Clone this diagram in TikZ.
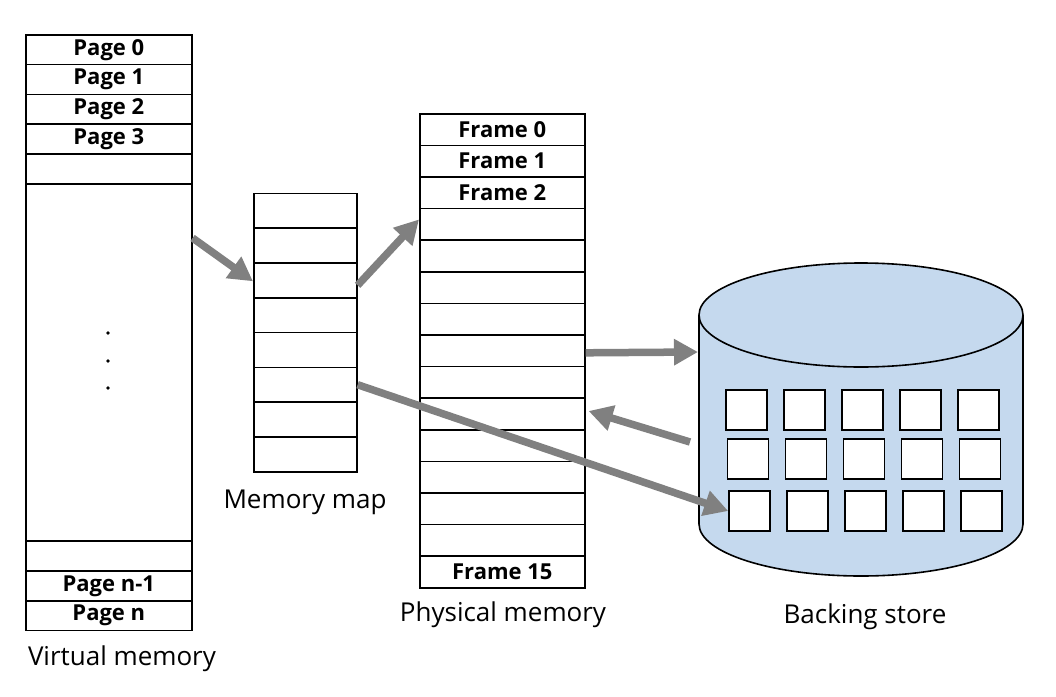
\documentclass[tikz,border=0pt]{standalone}
\usepackage{fontspec}
\setmainfont{Open Sans}
\usetikzlibrary{arrows.meta,calc}
\definecolor{arrowgray}{RGB}{128,128,128}
\definecolor{diskblue}{RGB}{197,217,238}
\tikzset{
  boxcell/.style={draw=black, line width=1.6pt, fill=white, inner sep=0pt, anchor=north west,
                  font=\fontsize{22}{24}\selectfont\bfseries},
  vcell/.style={boxcell, minimum width=166pt},
  mcell/.style={boxcell, minimum width=103pt, minimum height=34.8pt},
  pcell/.style={boxcell, minimum width=165pt, minimum height=31.6pt},
  sq/.style={draw=black, line width=1.6pt, fill=white, inner sep=0pt, minimum width=41pt, minimum height=40pt},
  caption/.style={font=\fontsize{26}{30}\selectfont, inner sep=0pt},
  bigarrow/.style={draw=arrowgray, line width=7.5pt, -{Triangle[length=24pt,width=25pt]}, shorten <=0pt},
}
\begin{document}
\begin{tikzpicture}[x=1pt,y=-1pt]
\useasboundingbox (0,0) rectangle (1056,696);
\fill[white] (0,0) rectangle (1056,696);

% Virtual memory
\node[vcell, minimum height=29.8pt] (v0) at (25,34) {Page 0};
\node[vcell, minimum height=29.8pt] (v1) at (25,63.8) {Page 1};
\node[vcell, minimum height=29.8pt] (v2) at (25,93.6) {Page 2};
\node[vcell, minimum height=29.8pt] (v3) at (25,123.4) {Page 3};
\node[vcell, minimum height=29.8pt] (v4) at (25,153.2) {};
\node[vcell, minimum height=357pt] (v5) at (25,183) {};
\node[vcell, minimum height=30pt] (v6) at (25,540) {};
\node[vcell, minimum height=30pt] (v7) at (25,570) {Page n-1};
\node[vcell, minimum height=29.5pt] (v8) at (25,600) {Page n};
\fill (108,333) circle (1.8pt);
\fill (108,361) circle (1.8pt);
\fill (108,388) circle (1.8pt);
\node[caption] (vlab) at (122,659) {Virtual memory};

% Memory map
\foreach \i in {0,...,7}
  \node[mcell] (m\i) at (253,{192.5+34.8*\i}) {};
\node[caption] (mlab) at (305,502) {Memory map};

% Physical memory
\foreach \i/\t in {0/Frame 0,1/Frame 1,2/Frame 2,3/,4/,5/,6/,7/,8/,9/,10/,11/,12/,13/,14/Frame 15}
  \node[pcell] (p\i) at (419,{113+31.6*\i}) {\t};
\node[caption] (plab) at (503,615) {Physical memory};

% Backing store (cylinder)
\fill[diskblue] (699,315) rectangle (1023,524);
\fill[diskblue] (861,524) ellipse [x radius=162pt, y radius=52pt];
\draw[line width=1.6pt] (699,524) arc[start angle=180, end angle=360, x radius=162pt, y radius=52pt];
\draw[line width=1.6pt] (699,315) -- (699,524);
\draw[line width=1.6pt] (1023,315) -- (1023,524);
\filldraw[fill=diskblue, draw=black, line width=1.6pt] (861,315) ellipse [x radius=162pt, y radius=52pt];
\coordinate (bsin) at (698,352);
\coordinate (bsout) at (690,442);

\foreach \c in {0,...,4} {
  \node[sq] (s0\c) at ({746.5+58*\c},410) {};
  \node[sq] (s1\c) at ({748+58*\c},459) {};
  \node[sq] (s2\c) at ({749.5+58*\c},511) {};
}
\node[caption] (blab) at (865,617) {Backing store};

% Arrows
\draw[bigarrow] ($(v5.north east)+(0,55)$) -- ([yshift=-1pt]m2.west);
\draw[bigarrow] ([yshift=-5pt]m2.east) -- ([yshift=5pt]p3.west);
\draw[bigarrow] ([yshift=-2pt]p7.east) -- (bsin);
\draw[bigarrow] (bsout) -- ([xshift=3pt,yshift=3pt]p9.east);
\draw[bigarrow] (m5.east) -- (s20.west);
\end{tikzpicture}
\end{document}
